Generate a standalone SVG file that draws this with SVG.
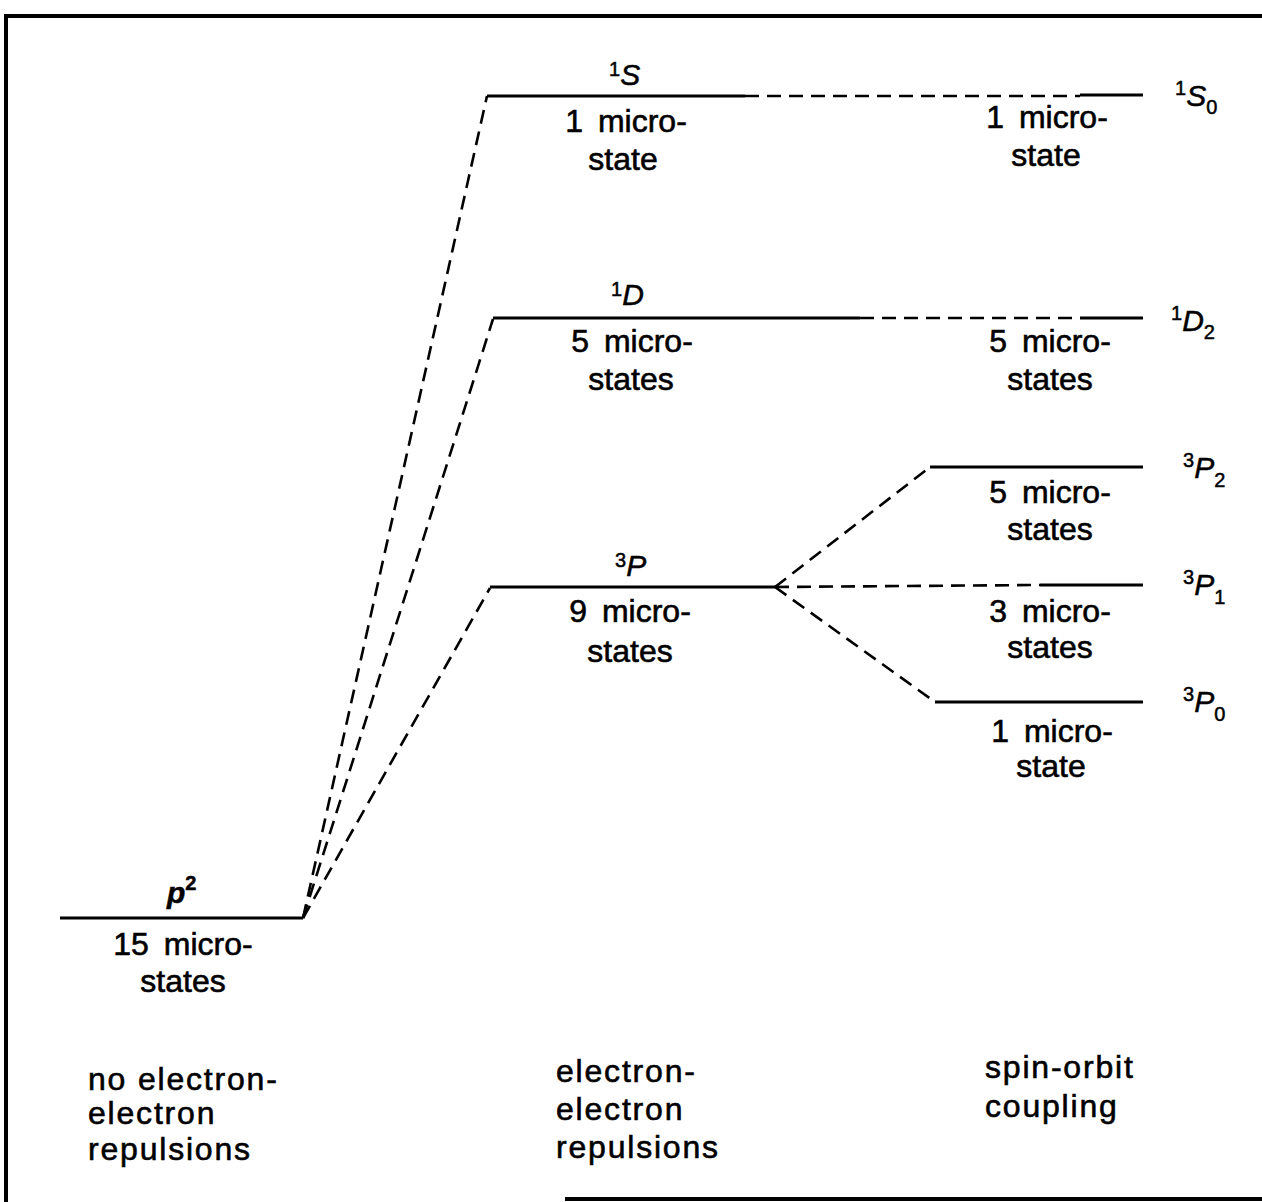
<svg xmlns="http://www.w3.org/2000/svg" width="1262" height="1202" viewBox="0 0 1262 1202">
<style>
.frame{stroke:#000;stroke-width:4;fill:none}
.lvl{stroke:#000;stroke-width:3;fill:none}
.dash{stroke:#000;stroke-width:2.6;fill:none;stroke-dasharray:14 8}
.t{font-family:"Liberation Sans",Arial,sans-serif;font-size:32px;fill:#000;stroke:#000;stroke-width:0.6px;text-anchor:middle;word-spacing:6px}
.cap{font-family:"Liberation Sans",Arial,sans-serif;font-size:32px;fill:#000;stroke:#000;stroke-width:0.6px;letter-spacing:1.8px}
.sym{font-family:"Liberation Sans",Arial,sans-serif;font-style:italic;font-size:30px;fill:#000;stroke:#000;stroke-width:0.5px}
.sup{font-style:normal;font-size:20px}
</style>
<rect width="1262" height="1202" fill="#fff"/>
<g id="frame">
<path class="frame" d="M4 16 H1262 M6 16 V1202 M565 1199 H1262"/>
</g>
<g id="connectors">
<path class="dash" d="M303 918 L487 96"/>
<path class="dash" d="M303 918 L493 319"/>
<path class="dash" d="M303 918 L490 588"/>
<path class="dash" d="M745 96 H1080"/>
<path class="dash" d="M860 318 H1080"/>
<path class="dash" d="M775 587 L930 467"/>
<path class="dash" d="M775 587 L1040 585"/>
<path class="dash" d="M775 587 L935 702"/>
</g>
<g id="p2">
<path class="lvl" d="M60 918 H303"/>
<text class="sym" x="167" y="903" font-weight="bold" font-size="32">p<tspan class="sup" dy="-13">2</tspan></text>
<text class="t" x="183" y="955">15 micro-</text>
<text class="t" x="183" y="992">states</text>
</g>
<g id="S1">
<path class="lvl" d="M487 96 H745"/>
<text class="sym" x="609" y="85"><tspan class="sup" dy="-9">1</tspan><tspan dy="9">S</tspan></text>
<text class="t" x="626" y="132">1 micro-</text>
<text class="t" x="623" y="170">state</text>
</g>
<g id="D1">
<path class="lvl" d="M493 318 H860"/>
<text class="sym" x="611" y="305"><tspan class="sup" dy="-9">1</tspan><tspan dy="9">D</tspan></text>
<text class="t" x="632" y="352">5 micro-</text>
<text class="t" x="631" y="390">states</text>
</g>
<g id="P3">
<path class="lvl" d="M490 587 H775"/>
<text class="sym" x="615" y="576"><tspan class="sup" dy="-9">3</tspan><tspan dy="9">P</tspan></text>
<text class="t" x="630" y="622">9 micro-</text>
<text class="t" x="630" y="662">states</text>
</g>
<g id="S0">
<path class="lvl" d="M1080 95 H1143"/>
<text class="sym" x="1175" y="106"><tspan class="sup" dy="-11">1</tspan><tspan dy="11">S</tspan><tspan class="sup" dy="8">0</tspan></text>
<text class="t" x="1047" y="128">1 micro-</text>
<text class="t" x="1046" y="166">state</text>
</g>
<g id="D2">
<path class="lvl" d="M1080 318 H1143"/>
<text class="sym" x="1171" y="331"><tspan class="sup" dy="-11">1</tspan><tspan dy="11">D</tspan><tspan class="sup" dy="8">2</tspan></text>
<text class="t" x="1050" y="352">5 micro-</text>
<text class="t" x="1050" y="390">states</text>
</g>
<g id="P2">
<path class="lvl" d="M930 467 H1143"/>
<text class="sym" x="1183" y="478"><tspan class="sup" dy="-11">3</tspan><tspan dy="11">P</tspan><tspan class="sup" dy="9">2</tspan></text>
<text class="t" x="1050" y="503">5 micro-</text>
<text class="t" x="1050" y="540">states</text>
</g>
<g id="P1">
<path class="lvl" d="M1040 585 H1143"/>
<text class="sym" x="1183" y="595"><tspan class="sup" dy="-11">3</tspan><tspan dy="11">P</tspan><tspan class="sup" dy="9">1</tspan></text>
<text class="t" x="1050" y="622">3 micro-</text>
<text class="t" x="1050" y="658">states</text>
</g>
<g id="P0">
<path class="lvl" d="M935 702 H1143"/>
<text class="sym" x="1183" y="712"><tspan class="sup" dy="-11">3</tspan><tspan dy="11">P</tspan><tspan class="sup" dy="9">0</tspan></text>
<text class="t" x="1052" y="742">1 micro-</text>
<text class="t" x="1051" y="777">state</text>
</g>
<g id="captions">
<text class="cap" x="88" y="1090">no electron-</text>
<text class="cap" x="88" y="1124">electron</text>
<text class="cap" x="88" y="1160">repulsions</text>
<text class="cap" x="556" y="1082">electron-</text>
<text class="cap" x="556" y="1120">electron</text>
<text class="cap" x="556" y="1158">repulsions</text>
<text class="cap" x="985" y="1078">spin-orbit</text>
<text class="cap" x="985" y="1117">coupling</text>
</g>
</svg>
